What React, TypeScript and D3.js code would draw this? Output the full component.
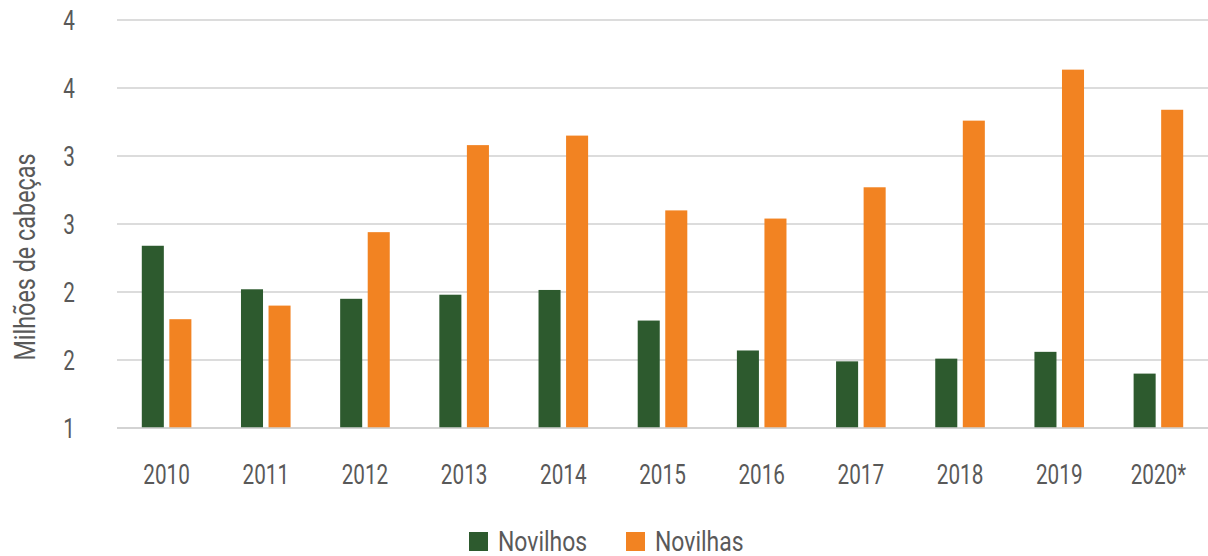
import React from "react";
import * as d3 from "d3";

const years = ["2010", "2011", "2012", "2013", "2014", "2015", "2016", "2017", "2018", "2019", "2020*"];
const novilhos = [2.34, 2.02, 1.95, 1.98, 2.015, 1.79, 1.57, 1.49, 1.51, 1.56, 1.40];
const novilhas = [1.80, 1.90, 2.44, 3.08, 3.15, 2.60, 2.54, 2.77, 3.26, 3.635, 3.34];
const seriesNames = ["Novilhos", "Novilhas"];
const seriesColors = ["#2D5A2E", "#F28322"];
const yTicks = [1, 1.5, 2, 2.5, 3, 3.5, 4];
const yTitle = "Milhões de cabeças";

const W = 1208;
const H = 556;
const FONT = "Roboto, 'DejaVu Sans', sans-serif";
const TEXT = "#595959";

type TProps = { x: number; y: number; sx: number; size: number; anchor?: "start" | "middle" | "end"; rotate?: number; dy?: string; children: React.ReactNode };
function CText({ x, y, sx, size, anchor = "start", rotate = 0, dy, children }: TProps) {
  return (
    <text
      transform={`translate(${x},${y}) rotate(${rotate}) scale(${sx},1)`}
      textAnchor={anchor}
      fontSize={size}
      fill={TEXT}
      dy={dy}
    >
      {children}
    </text>
  );
}

export default function App() {
  const left = 117, right = 1208, top = 20, bottom = 428;
  const x0 = d3.scaleBand<string>().domain(years).range([left, right]).paddingInner(0.5).paddingOuter(0.25);
  const x1 = d3.scaleBand<string>().domain(seriesNames).range([0, x0.bandwidth()]).paddingInner(0.2);
  const y = d3.scaleLinear().domain([1, 4]).range([bottom, top]);
  const fmt = d3.format(".0f");
  const data = [novilhos, novilhas];

  return (
    <svg width={W} height={H} style={{ display: "block", position: "absolute", left: 0, top: 0 }} fontFamily={FONT}>
      <rect width={W} height={H} fill="#fff" />
      {yTicks.map((t, i) => (
        <g key={i}>
          <line x1={left} x2={right} y1={y(t)} y2={y(t)} stroke="#d0d0d0" strokeWidth={1.5} />
          <CText x={75} y={y(t)} sx={0.74} size={28} anchor="end" dy="0.36em">{fmt(t)}</CText>
        </g>
      ))}
      {data.map((vals, si) =>
        vals.map((v, i) => (
          <rect
            key={`${si}-${i}`}
            x={(x0(years[i]) as number) + (x1(seriesNames[si]) as number)}
            y={y(v)}
            width={x1.bandwidth()}
            height={y(1) - y(v)}
            fill={seriesColors[si]}
          />
        ))
      )}
      <line x1={left} x2={right} y1={bottom} y2={bottom} stroke="#d0d0d0" strokeWidth={1.5} />
      {years.map((yr) => (
        <CText key={yr} x={(x0(yr) as number) + x0.bandwidth() / 2} y={484} sx={0.74} size={28} anchor="middle">{yr}</CText>
      ))}
      <CText x={35} y={257} sx={0.78} size={30} anchor="middle" rotate={-90}>{yTitle}</CText>
      {seriesNames.map((s, i) => {
        const lx = [469, 626][i];
        return (
          <g key={s}>
            <rect x={lx} y={532} width={19} height={19} fill={seriesColors[i]} />
            <CText x={lx + 29} y={551} sx={0.82} size={28}>{s}</CText>
          </g>
        );
      })}
    </svg>
  );
}
